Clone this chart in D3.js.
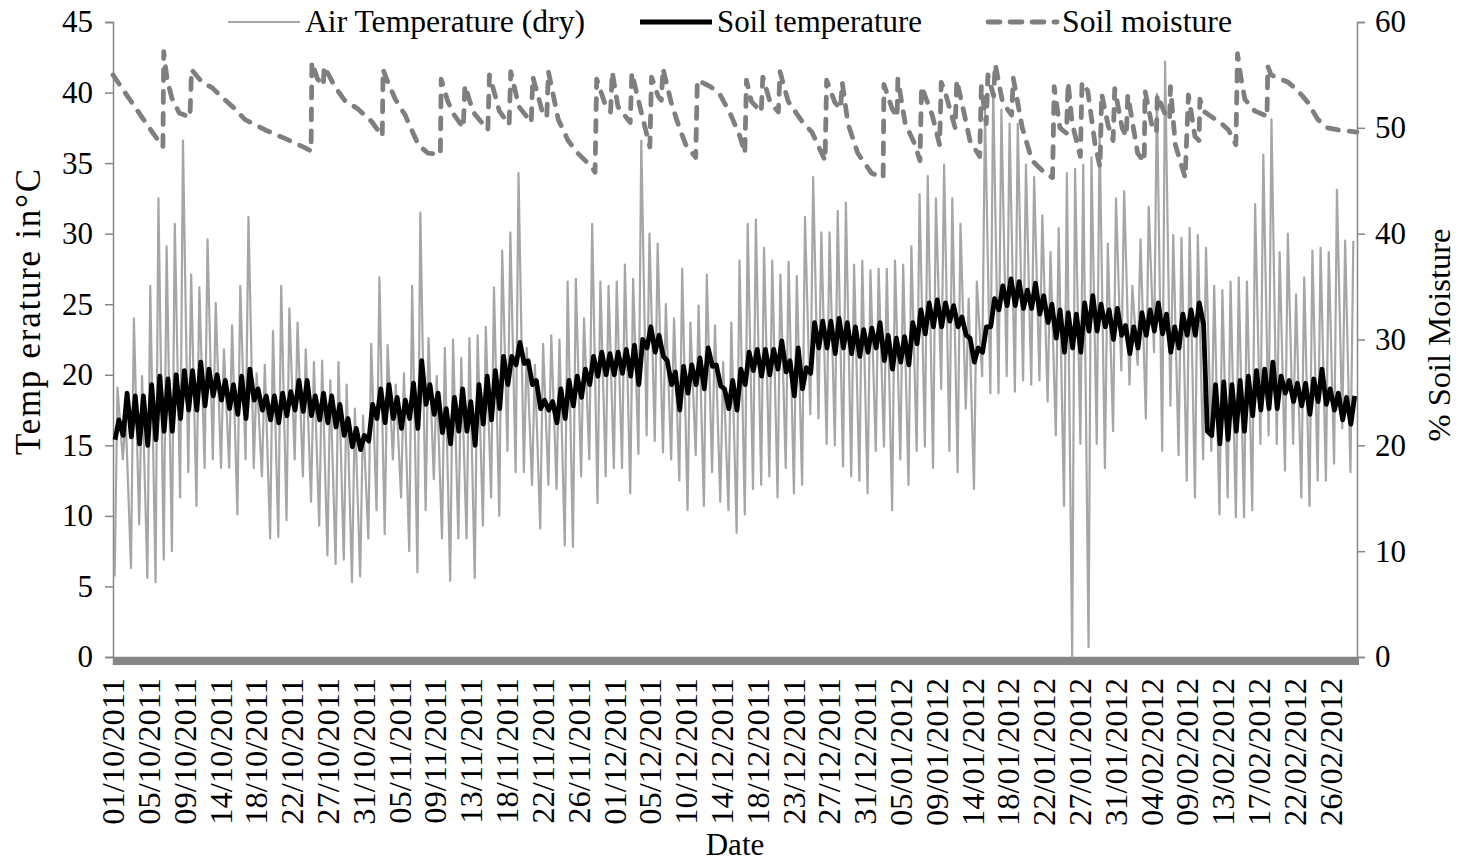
<!DOCTYPE html>
<html>
<head>
<meta charset="utf-8">
<script src="https://cdn.jsdelivr.net/npm/d3@7"></script>
<style>
  body { margin: 0; background: #fff; }
  text { font-family: "Liberation Serif", "Times New Roman", serif; fill: #000; }
</style>
</head>
<body>
<div id="chart"></div>
<script>
// x axis labels, one every 105 hours from 01/10/2011 00:00
const dateLabels = ["01/10/2011","05/10/2011","09/10/2011","14/10/2011","18/10/2011","22/10/2011",
  "27/10/2011","31/10/2011","05/11/2011","09/11/2011","13/11/2011","18/11/2011","22/11/2011",
  "26/11/2011","01/12/2011","05/12/2011","10/12/2011","14/12/2011","18/12/2011","23/12/2011",
  "27/12/2011","31/12/2011","05/01/2012","09/01/2012","14/01/2012","18/01/2012","22/01/2012",
  "27/01/2012","31/01/2012","04/02/2012","09/02/2012","13/02/2012","17/02/2012","22/02/2012",
  "26/02/2012"];
const labelStepDays = 4.375;
const totalDays = 152;

// air temperature (dry), early morning reading per day (deg C), day 0 = 01/10/2011
const airMorning = [
  5.7,14.0,6.3,9.4,5.6,5.3,6.9,7.5,11.3,13.1,10.7,13.4,14.0,13.4,13.4,10.1,
  14.0,13.4,12.8,8.4,8.5,9.7,14.0,12.8,11.0,9.3,7.2,6.6,6.9,5.3,5.7,8.4,10.4,
  8.7,14.0,11.3,7.5,6.0,10.4,12.6,8.4,5.4,8.4,8.4,5.6,9.3,11.3,10.0,14.6,13.1,
  13.1,12.2,9.1,12.2,11.9,7.9,7.8,12.8,14.0,10.9,12.8,13.4,13.4,11.6,14.4,15.7,15.3,
  14.5,14.0,12.5,10.4,14.3,10.7,13.1,11.0,10.4,8.8,10.1,11.9,12.2,12.8,11.3,13.4,11.6,
  12.2,17.2,16.9,15.1,15.0,13.5,12.8,12.5,11.6,14.6,14.9,10.4,14.0,12.2,14.6,14.9,13.4,
  19.0,14.6,13.1,17.6,11.9,19.9,18.7,18.7,19.9,18.8,19.6,19.3,19.6,18.1,15.7,10.7,0.0,
  15.1,0.7,15.1,13.4,16.0,20.3,19.3,20.7,16.9,21.6,14.6,17.8,14.3,12.5,11.3,14.0,14.6,
  10.1,11.3,9.9,9.9,10.4,15.1,15.7,15.1,13.2,15.1,11.3,10.7,12.5,12.5,13.7,16.2,13.1
];
// air temperature (dry), afternoon reading per day (deg C)
const airAfternoon = [
  19.1,17.0,24.0,19.9,26.3,32.5,29.1,30.7,36.6,27.1,26.2,29.6,25.1,21.8,23.5,26.3,
  31.2,20.1,20.7,23.1,26.3,24.7,23.7,21.8,20.9,21.0,19.6,20.9,19.3,17.6,17.1,22.2,26.9,
  22.1,19.3,20.1,26.3,31.5,22.6,19.9,21.9,22.5,21.2,22.6,22.8,23.4,26.2,28.8,30.1,34.3,
  21.9,20.7,22.2,22.8,22.5,26.6,26.8,24.0,30.7,26.6,26.3,26.6,27.8,26.8,36.6,30.0,29.3,
  25.0,24.0,27.5,23.7,24.9,27.1,23.5,20.9,23.7,28.1,30.7,31.0,29.0,28.1,27.1,28.0,27.0,
  31.2,34.0,30.1,30.1,31.6,32.2,27.8,28.1,27.4,27.5,27.5,28.1,27.8,29.1,32.8,34.1,32.5,
  34.9,32.5,30.7,25.4,26.6,38.7,40.3,38.8,37.8,37.8,34.9,34.0,31.3,28.7,30.4,34.3,34.6,
  34.9,35.4,37.2,29.3,32.5,33.0,26.3,29.6,31.9,39.9,42.2,29.9,29.7,30.4,29.9,29.0,26.3,
  26.0,26.6,26.9,26.6,32.1,35.6,38.1,28.7,30.0,25.7,26.9,28.8,29.0,28.7,33.1,29.5,29.5
];

// soil temperature, morning reading per day (deg C)
const soilMorning = [
  15.4,15.7,15.6,15.1,15.0,15.4,16.0,16.0,16.9,17.5,17.5,17.8,18.5,18.2,17.6,17.2,
  16.9,18.2,17.5,16.8,16.6,17.1,17.5,17.4,17.1,16.8,16.6,16.3,15.7,14.9,14.7,15.3,16.9,
  16.6,16.9,16.2,16.9,16.2,17.9,17.2,15.9,15.1,16.0,16.0,15.0,16.5,16.8,17.6,19.3,20.7,
  20.8,19.3,17.6,17.5,16.6,16.9,17.8,18.4,19.3,19.9,20.0,20.0,20.1,19.9,19.3,21.9,21.6,
  21.3,19.3,17.5,18.7,19.3,19.0,20.6,19.2,17.6,17.5,19.3,20.3,19.9,20.0,20.4,20.2,18.5,
  19.0,20.1,21.9,21.9,21.5,21.9,21.5,21.3,21.6,21.9,21.0,20.4,20.9,20.7,22.2,22.9,23.4,
  23.4,23.8,23.4,22.8,20.9,21.6,23.4,24.6,24.9,24.9,24.7,24.7,24.3,23.7,22.6,21.6,21.9,
  21.6,23.1,23.1,23.4,22.5,22.8,21.5,21.9,22.8,23.1,22.9,21.6,21.9,22.8,22.8,23.6,15.7,
  15.1,15.4,16.0,16.0,17.1,17.5,17.6,17.6,18.7,18.1,17.8,17.2,18.1,17.9,17.5,16.8,16.5
];
// soil temperature, late afternoon reading per day (deg C)
const soilAfternoon = [
  16.8,18.7,18.5,18.5,19.3,19.9,19.7,20.0,20.3,20.3,20.9,20.4,20.0,19.6,19.3,19.9,
  20.4,19.0,18.5,18.5,18.7,18.8,19.6,19.6,18.5,18.7,18.5,17.9,16.9,16.2,15.7,17.9,19.0,
  19.3,18.4,18.2,19.4,21.0,19.3,18.7,17.6,18.4,19.0,18.1,19.3,19.9,20.3,21.3,21.3,22.3,
  21.0,19.6,18.2,18.1,19.0,19.6,19.9,20.4,21.3,21.6,21.5,21.6,21.8,22.1,22.5,23.4,22.8,
  21.0,20.2,20.6,20.7,21.2,21.9,20.7,19.0,19.6,20.4,21.6,21.8,21.8,21.8,22.4,21.0,21.9,
  20.5,23.7,23.8,23.8,24.0,23.7,23.4,23.2,23.3,23.7,22.8,22.6,22.7,23.7,24.6,25.1,25.3,
  25.1,24.9,24.1,22.6,21.9,23.4,25.4,26.3,26.8,26.6,26.0,26.5,25.6,25.0,24.6,24.4,24.3,
  25.1,25.6,25.0,24.6,24.7,23.5,23.4,24.4,24.6,25.1,24.3,23.4,24.3,24.6,25.1,16.0,19.3,
  19.5,19.3,19.6,19.9,20.3,20.4,20.9,19.9,19.6,19.4,19.4,19.7,20.4,19.0,18.7,18.4,18.5
];

// soil moisture (%) at turning points: [day since 01/10/2011, value]
const soilMoisture = [
  [0,55.0],[1.5,53.3],[3.1,51.5],[4.8,49.6],[6.1,48.2],
  [6.2,57.2],[6.6,54.6],[7.2,52.8],[8.1,51.4],[9.4,51.0],
  [9.6,55.5],[10.9,54.3],[12.1,53.8],[13.3,52.9],[14.9,51.8],[16.1,50.8],[18.6,49.8],[21.0,49.0],[23.5,48.1],[24.2,47.8],
  [24.3,56.2],[25.0,54.6],[25.7,54.0],[25.8,55.8],[27.1,53.9],[28.3,52.6],[29.9,51.8],[31.6,50.6],[32.9,49.2],
  [33.0,55.5],[33.6,54.3],[34.5,52.7],[35.7,51.2],[37.3,48.4],[38.5,47.6],[40.0,47.5],
  [40.1,54.6],[40.9,52.5],[41.7,51.2],[42.8,50.0],
  [43.0,54.0],[44.0,51.5],[45.8,49.8],
  [46.0,55.0],[47.2,51.6],[48.4,50.3],
  [48.6,55.3],[49.6,52.0],[51.1,50.5],
  [51.3,54.8],[52.5,51.4],[53.0,51.0],
  [53.2,55.3],[54.4,50.8],[55.6,48.8],[56.8,47.6],[58.5,46.3],[58.9,45.8],
  [59.1,54.6],[60.1,52.3],[60.8,51.5],
  [61.0,55.3],[61.7,52.0],[63.2,50.5],
  [63.4,55.2],[64.6,51.3],[65.6,48.2],
  [65.8,54.8],[66.6,53.0],[67.0,52.6],
  [67.2,55.6],[68.2,52.4],[69.2,50.0],[70.0,48.4],[71.2,47.2],
  [71.4,54.5],[73.0,53.9],[74.2,53.1],[75.5,51.2],[76.6,49.2],[77.2,47.6],
  [77.4,54.5],[78.0,52.5],[79.2,51.5],
  [79.4,54.8],[80.3,52.4],[81.3,51.5],
  [81.5,55.3],[82.5,52.5],[84.2,50.6],[85.4,49.6],[87.0,46.9],
  [87.2,54.5],[88.2,52.4],[88.9,51.8],
  [89.1,54.3],[89.8,50.4],[91.0,47.6],[92.7,45.7],[94.1,45.3],
  [94.2,54.1],[95.2,51.8],[95.8,51.0],
  [95.9,54.6],[96.8,50.4],[98.0,48.4],[98.6,46.9],
  [98.8,53.9],[100.1,51.2],[101.0,48.4],
  [101.2,54.3],[101.7,53.3],[102.9,50.0],
  [103.1,54.5],[104.1,51.0],[104.7,48.8],[105.9,47.3],
  [106.1,53.9],[106.7,50.4],
  [106.9,55.0],[107.6,53.0],
  [107.8,56.0],[108.7,52.4],[109.8,51.2],
  [110.0,54.7],[111.1,50.0],[112.3,46.9],[113.9,45.7],[114.8,45.3],
  [115.0,53.9],[115.7,50.0],[116.5,49.5],
  [116.7,54.3],[117.2,50.4],[118.2,47.3],
  [118.4,54.3],[119.1,53.5],[120.0,48.4],[120.6,46.3],
  [120.8,53.2],[121.6,50.2],[122.2,48.8],
  [122.4,53.7],[123.3,50.0],[123.8,49.2],
  [124.0,53.1],[125.2,47.6],[126.0,46.8],
  [126.1,53.5],[127.0,50.0],[127.5,49.6],
  [127.6,53.1],[128.6,51.2],[129.1,50.8],
  [129.2,53.9],[129.8,48.4],[131.0,45.3],
  [131.4,53.1],[132.2,49.2],[132.7,48.8],
  [132.8,52.7],[133.4,51.5],[135.6,50.3],[136.3,49.8],[137.2,48.4],
  [137.4,57.0],[137.8,54.8],[138.3,52.7],[139.5,51.6],[140.7,51.2],[141.0,51.0],
  [141.1,55.8],[141.5,55.0],[142.4,54.7],[143.6,54.3],[144.8,53.5],[146.0,52.4],[147.2,50.8],
  [148.4,50.0],[149.7,49.8],[152,49.6]
];

const width = 1461;
const height = 863;
const plot = {left: 113, right: 1357, top: 22, bottom: 657};
const fontSize = 31;

const svg = d3.select("#chart")
  .append("svg")
  .attr("width", width)
  .attr("height", height);

// scales
const xScale = d3.scaleLinear()
  .domain([0, totalDays])
  .range([plot.left, plot.right]);

const yTemp = d3.scaleLinear()
  .domain([0, 45])
  .range([plot.bottom, plot.top]);

const yMoist = d3.scaleLinear()
  .domain([0, 60])
  .range([plot.bottom, plot.top]);

// build series (two readings per day)
const airSeries = [];
airMorning.forEach(function(v, d) {
  airSeries.push({t: d + 0.2, v: v});
  airSeries.push({t: d + 0.55, v: airAfternoon[d]});
});
const soilSeries = [];
soilMorning.forEach(function(v, d) {
  soilSeries.push({t: d + 0.25, v: v});
  soilSeries.push({t: d + 0.72, v: soilAfternoon[d]});
});

const axisColor = "#868686";

// dense category ticks along the bottom (one every 3 hours) -> grey band
const bandAxis = svg.append("g")
  .attr("transform", `translate(0,${plot.bottom})`)
  .call(d3.axisBottom(xScale)
    .tickValues(d3.range(0, totalDays + 0.001, 0.125))
    .tickSize(8)
    .tickFormat(""));
bandAxis.selectAll("line")
  .attr("stroke", axisColor)
  .attr("stroke-width", 2)
  .attr("shape-rendering", "crispEdges");
bandAxis.select(".domain").attr("stroke", axisColor).attr("stroke-width", 1.5);

// date labels
const labelAxis = svg.append("g")
  .attr("transform", `translate(0,${plot.bottom})`)
  .call(d3.axisBottom(xScale)
    .tickValues(dateLabels.map(function(_, i) { return i * labelStepDays; }))
    .tickSize(0)
    .tickFormat(function(d, i) { return dateLabels[i]; }));
labelAxis.select(".domain").remove();
labelAxis.selectAll("text")
  .attr("font-size", 32.5)
  .attr("font-family", "Liberation Serif, Times New Roman, serif")
  .attr("transform", "rotate(-90)")
  .attr("text-anchor", "end")
  .attr("x", -21)
  .attr("y", 0)
  .attr("dy", "0.33em");

// left axis
const leftAxis = svg.append("g")
  .attr("transform", `translate(${plot.left},0)`)
  .call(d3.axisLeft(yTemp).tickValues(d3.range(0, 46, 5)).tickSize(8).tickPadding(12));
leftAxis.selectAll("line").attr("stroke", axisColor).attr("stroke-width", 1.5);
leftAxis.select(".domain").attr("stroke", axisColor).attr("stroke-width", 1.5);
leftAxis.selectAll("text").attr("font-size", fontSize).attr("font-family", "Liberation Serif, Times New Roman, serif");

// right axis
const rightAxis = svg.append("g")
  .attr("transform", `translate(${plot.right},0)`)
  .call(d3.axisRight(yMoist).tickValues(d3.range(0, 61, 10)).tickSize(8).tickPadding(10));
rightAxis.selectAll("line").attr("stroke", axisColor).attr("stroke-width", 1.5);
rightAxis.select(".domain").attr("stroke", axisColor).attr("stroke-width", 1.5);
rightAxis.selectAll("text").attr("font-size", fontSize).attr("font-family", "Liberation Serif, Times New Roman, serif");

// lines
const tempLine = d3.line()
  .x(function(d) { return xScale(d.t); })
  .y(function(d) { return yTemp(d.v); });

const moistLine = d3.line()
  .x(function(d) { return xScale(d[0]); })
  .y(function(d) { return yMoist(d[1]); });

svg.append("path")
  .datum(airSeries)
  .attr("fill", "none")
  .attr("stroke", "#a6a6a6")
  .attr("stroke-width", 2.2)
  .attr("stroke-linejoin", "round")
  .attr("d", tempLine);

svg.append("path")
  .datum(soilSeries)
  .attr("fill", "none")
  .attr("stroke", "#000")
  .attr("stroke-width", 4.8)
  .attr("stroke-linejoin", "round")
  .attr("d", tempLine);

svg.append("path")
  .datum(soilMoisture)
  .attr("fill", "none")
  .attr("stroke", "#7f7f7f")
  .attr("stroke-width", 4.8)
  .attr("stroke-linecap", "round")
  .attr("stroke-linejoin", "round")
  .attr("stroke-dasharray", "11,11")
  .attr("d", moistLine);

// axis titles
svg.append("text")
  .attr("transform", "translate(40,312) rotate(-90)")
  .attr("text-anchor", "middle")
  .attr("font-size", 35)
  .attr("textLength", 286)
  .attr("lengthAdjust", "spacing")
  .text("Temp erature in°C");

svg.append("text")
  .attr("transform", "translate(1450,335) rotate(-90)")
  .attr("text-anchor", "middle")
  .attr("font-size", 32.5)
  .text("% Soil Moisture");

svg.append("text")
  .attr("x", 735)
  .attr("y", 855)
  .attr("text-anchor", "middle")
  .attr("font-size", fontSize)
  .text("Date");

// legend
const legendItems = [
  {name: "Air Temperature (dry)", x: 228, color: "#a6a6a6", w: 2.2, dash: null, len: 280},
  {name: "Soil temperature", x: 640, color: "#000", w: 4.8, dash: null, len: 205},
  {name: "Soil moisture", x: 985, color: "#7f7f7f", w: 4.8, dash: "12,10", len: 170}
];

legendItems.forEach(function(item) {
  svg.append("line")
    .attr("x1", item.x + (item.dash ? 3 : 0))
    .attr("x2", item.x + 72)
    .attr("y1", 22)
    .attr("y2", 22)
    .attr("stroke", item.color)
    .attr("stroke-width", item.w)
    .attr("stroke-linecap", item.dash ? "round" : "butt")
    .attr("stroke-dasharray", item.dash);

  svg.append("text")
    .attr("x", item.x + 77)
    .attr("y", 32)
    .attr("font-size", fontSize)
    .attr("textLength", item.len)
    .attr("lengthAdjust", "spacingAndGlyphs")
    .text(item.name);
});
</script>
</body>
</html>
